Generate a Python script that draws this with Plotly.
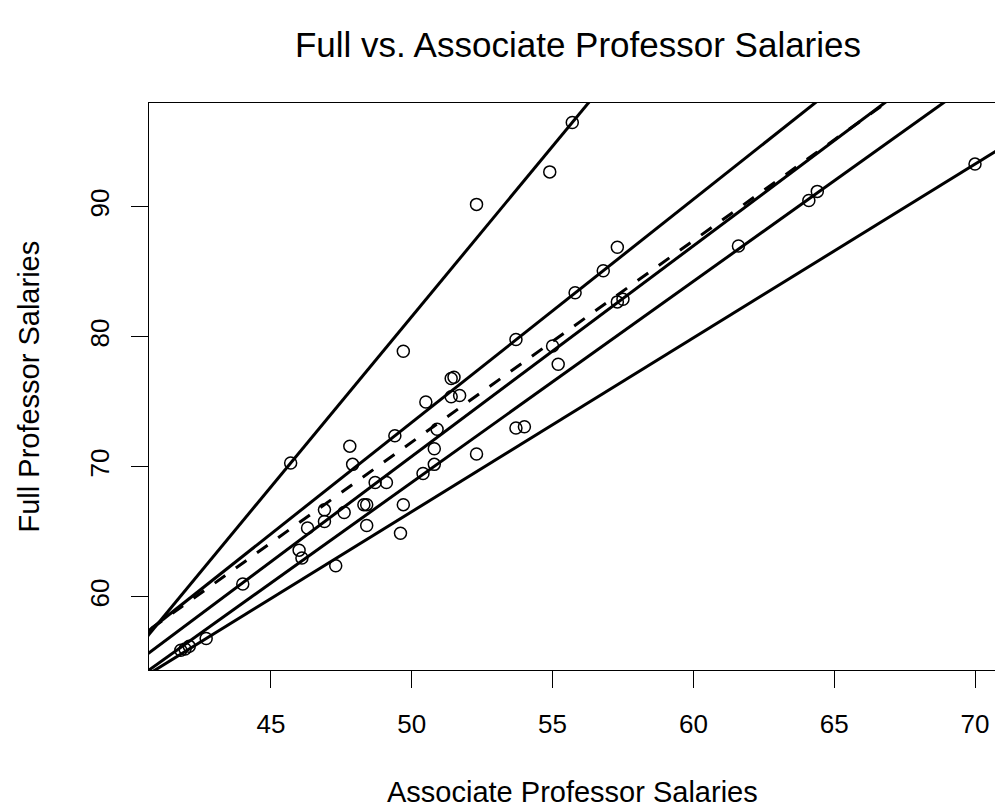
import plotly.graph_objects as go

# Salary data (thousands): associate vs. full professor
assoc = [41.8, 41.95, 42.1, 42.7, 44.0, 45.7, 46.0, 46.1, 46.3, 46.9, 46.9, 47.3,
         47.6, 47.8, 47.9, 48.3, 48.4, 48.4, 48.7, 49.1, 49.4, 49.6, 49.7, 49.7,
         50.4, 50.5, 50.8, 50.8, 50.9, 51.4, 51.4, 51.5, 51.7, 52.3, 52.3, 53.7,
         53.7, 54.0, 54.9, 55.0, 55.2, 55.7, 55.8, 56.8, 57.3, 57.3, 57.5, 61.6,
         64.1, 64.4, 70.0]
full = [55.9, 56.0, 56.2, 56.8, 61.0, 70.3, 63.6, 63.0, 65.3, 66.7, 65.8, 62.4,
        66.5, 71.6, 70.2, 67.1, 67.1, 65.5, 68.8, 68.8, 72.4, 64.9, 67.1, 78.9,
        69.5, 75.0, 71.4, 70.2, 72.9, 75.4, 76.8, 76.9, 75.5, 90.2, 71.0, 79.8,
        73.0, 73.1, 92.7, 79.3, 77.9, 96.5, 83.4, 85.1, 86.9, 82.7, 82.9, 87.0,
        90.5, 91.2, 93.3]

# Fitted lines: intercept, slope, dash style
line_intercepts = [-49.43, -12.37, -5.59, -10.19, -8.54, -0.29]
line_slopes = [2.62, 1.716, 1.55, 1.62, 1.547, 1.337]
line_dashes = ["solid", "solid", "13px,13px", "solid", "solid", "solid"]

x_ticks = [45, 50, 55, 60, 65, 70]
y_ticks = [60, 70, 80, 90]

x_range = [40.67, 70.71]
y_range = [54.38, 98.0]

FONT = "Liberation Sans, Arial, Helvetica, sans-serif"

fig = go.Figure()

fig.add_trace(go.Scatter(
    x=assoc, y=full, mode="markers",
    marker=dict(symbol="circle-open", size=12, color="black",
                line=dict(width=1.5, color="black")),
    showlegend=False, hoverinfo="skip",
))

x_ends = [40.0, 72.0]
for a, b, d in zip(line_intercepts, line_slopes, line_dashes):
    fig.add_trace(go.Scatter(
        x=x_ends, y=[a + b * x for x in x_ends], mode="lines",
        line=dict(color="black", width=3, dash=d),
        showlegend=False, hoverinfo="skip",
    ))

fig.update_layout(
    width=995, height=810,
    margin=dict(l=149, r=0, t=103, b=140),
    paper_bgcolor="white", plot_bgcolor="white",
    font=dict(family=FONT, color="black"),
    title=dict(text="Full vs. Associate Professor Salaries",
               font=dict(size=35, family=FONT, color="black"),
               x=578 / 995, xref="container", xanchor="center",
               y=1 - 45 / 810, yref="container", yanchor="middle"),
    annotations=[
        dict(text="Associate Professor Salaries", xref="paper", yref="paper",
             x=0.5, y=(670 - 792) / 567, xanchor="center", yanchor="middle",
             showarrow=False, font=dict(size=29, family=FONT, color="black")),
        dict(text="Full Professor Salaries", xref="paper", yref="paper",
             x=(28 - 149) / 846, y=0.5, xanchor="center", yanchor="middle",
             textangle=-90, showarrow=False,
             font=dict(size=29, family=FONT, color="black")),
    ],
)

fig.update_xaxes(
    range=x_range, tickvals=x_ticks, ticktext=[str(v) for v in x_ticks],
    showgrid=False, zeroline=False,
    showline=True, mirror=True, linecolor="black", linewidth=1.3,
    ticks="outside", ticklen=17, tickwidth=1.3, tickcolor="black",
    tickfont=dict(size=26, family=FONT, color="black"),
    ticklabelstandoff=14,
)
fig.update_yaxes(
    range=y_range, tickvals=y_ticks, ticktext=[str(v) for v in y_ticks],
    showgrid=False, zeroline=False,
    showline=True, mirror=False, linecolor="black", linewidth=1.3,
    ticks="outside", ticklen=17, tickwidth=1.3, tickcolor="black",
    tickfont=dict(size=26, family=FONT, color="black"),
    tickangle=-90, ticklabelstandoff=11,
)

fig.write_html("out.html")
